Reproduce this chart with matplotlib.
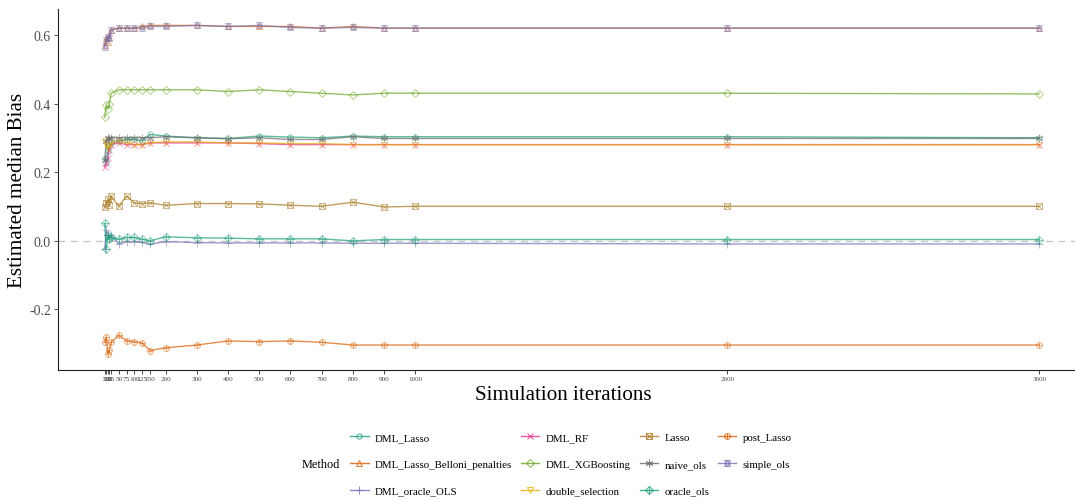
import matplotlib
matplotlib.use("Agg")
import matplotlib.pyplot as plt
from matplotlib.lines import Line2D
from matplotlib.legend_handler import HandlerTuple

plt.rcParams['font.family'] = ['Liberation Serif', 'DejaVu Serif']
plt.rcParams['axes.unicode_minus'] = False

iterations = [5, 10, 15, 20, 25, 50, 75, 100, 125, 150, 200, 300, 400, 500,
              600, 700, 800, 900, 1000, 2000, 3000]
xtick_values = [5, 10, 15, 20, 25, 50, 75, 100, 125, 150, 200, 300, 400, 500,
                600, 700, 800, 900, 1000, 2000, 3000]
ytick_values = [-0.2, 0.0, 0.2, 0.4, 0.6]

DML_Lasso = [0.24, 0.23, 0.26, 0.275, 0.285, 0.29, 0.295, 0.295, 0.29, 0.31, 0.305,
             0.30, 0.298, 0.305, 0.302, 0.30, 0.305, 0.303, 0.303, 0.303, 0.30]
DML_Lasso_Belloni_penalties = [0.57, 0.59, 0.58, 0.595, 0.615, 0.62, 0.62, 0.62, 0.625,
                               0.628, 0.628, 0.628, 0.625, 0.625, 0.625, 0.62, 0.625,
                               0.62, 0.62, 0.62, 0.62]
DML_oracle_OLS = [-0.025, 0.03, 0.015, 0.01, 0.015, -0.01, -0.003, -0.003, -0.005, -0.011,
                  -0.003, -0.006, -0.007, -0.007, -0.007, -0.007, -0.008, -0.008, -0.008,
                  -0.01, -0.01]
DML_RF = [0.215, 0.225, 0.24, 0.265, 0.28, 0.285, 0.28, 0.28, 0.28, 0.285, 0.285, 0.285,
          0.285, 0.283, 0.28, 0.28, 0.28, 0.28, 0.28, 0.28, 0.28]
DML_XGBoosting = [0.36, 0.395, 0.385, 0.40, 0.43, 0.44, 0.44, 0.44, 0.44, 0.44, 0.44, 0.44,
                  0.435, 0.44, 0.435, 0.43, 0.425, 0.43, 0.43, 0.43, 0.428]
double_selection = [0.29, 0.28, 0.27, 0.275, 0.285, 0.29, 0.285, 0.28, 0.28, 0.285, 0.288,
                    0.288, 0.285, 0.285, 0.283, 0.283, 0.28, 0.28, 0.28, 0.28, 0.28]
Lasso = [0.097, 0.11, 0.12, 0.105, 0.13, 0.10, 0.13, 0.11, 0.108, 0.11, 0.103, 0.108,
         0.108, 0.107, 0.103, 0.10, 0.112, 0.098, 0.10, 0.10, 0.10]
naive_ols = [0.235, 0.29, 0.30, 0.30, 0.30, 0.30, 0.30, 0.30, 0.30, 0.30, 0.303, 0.30,
             0.297, 0.30, 0.295, 0.295, 0.303, 0.298, 0.298, 0.298, 0.298]
oracle_ols = [0.05, -0.025, 0.015, 0.005, 0.01, 0.004, 0.009, 0.009, 0.004, -0.001, 0.011,
              0.008, 0.007, 0.005, 0.005, 0.005, -0.001, 0.003, 0.003, 0.003, 0.003]
post_Lasso = [-0.297, -0.282, -0.33, -0.32, -0.297, -0.277, -0.292, -0.295, -0.299, -0.321,
              -0.313, -0.305, -0.293, -0.295, -0.293, -0.297, -0.305, -0.305, -0.305,
              -0.305, -0.305]
simple_ols = [0.565, 0.585, 0.595, 0.59, 0.615, 0.62, 0.62, 0.62, 0.62, 0.625, 0.625,
              0.628, 0.625, 0.628, 0.622, 0.62, 0.622, 0.62, 0.62, 0.62, 0.62]

methods = ["DML_Lasso", "DML_Lasso_Belloni_penalties", "DML_oracle_OLS", "DML_RF",
           "DML_XGBoosting", "double_selection", "Lasso", "naive_ols", "oracle_ols",
           "post_Lasso", "simple_ols"]
values = [DML_Lasso, DML_Lasso_Belloni_penalties, DML_oracle_OLS, DML_RF, DML_XGBoosting,
          double_selection, Lasso, naive_ols, oracle_ols, post_Lasso, simple_ols]

dark2 = ["#1B9E77", "#D95F02", "#7570B3", "#E7298A", "#66A61E", "#E6AB02", "#A6761D",
         "#666666"]
colors = [dark2[i % 8] for i in range(len(methods))]
# ggplot shapes 1..11 expressed as stacks of matplotlib markers (marker, size)
shapes = [
    [("o", 3.8)],
    [("^", 4.6)],
    [("+", 5.5)],
    [("x", 4.6)],
    [("D", 3.8)],
    [("v", 4.6)],
    [("s", 4.2), ("x", 4.2)],
    [((6, 2, 0), 5.5)],
    [("D", 4.2), ("+", 5.5)],
    [("o", 4.2), ("+", 4.2)],
    [("^", 4.6), ("v", 4.6)],
]

W, H = 1075, 502
fig = plt.figure(figsize=(W / 100, H / 100), dpi=100)
ax = fig.add_axes([58 / W, 1 - 371 / H, (1086 - 58) / W, (371 - 10) / H])

ax.axhline(0, color="#c8c8c8", lw=1.0, ls=(0, (5, 4)), zorder=0)

handles = []
for name, vals, col, shp in zip(methods, values, colors, shapes):
    ax.plot(iterations, vals, color=col, lw=1.0, alpha=0.7, zorder=2)
    parts = []
    for j, (m, s) in enumerate(shp):
        ax.plot(iterations, vals, ls="none", marker=m, ms=s, mfc="none", mec=col,
                mew=0.7, alpha=0.5, zorder=3)
        if j == 0:
            parts.append(Line2D([], [], color=col, lw=1.0, alpha=0.8, marker=m, ms=s,
                                mfc="none", mec=col, mew=0.7))
        else:
            parts.append(Line2D([], [], ls="none", alpha=0.8, marker=m, ms=s,
                                mfc="none", mec=col, mew=0.7))
    handles.append(tuple(parts))

xr = max(iterations) - min(iterations)
ax.set_xlim(min(iterations) - 0.05 * xr, max(iterations) + 0.05 * xr)
allv = [v for vals in values for v in vals]
yr = max(allv) - min(allv)
ax.set_ylim(min(allv) - 0.05 * yr, max(allv) + 0.05 * yr)

ax.set_xticks(xtick_values)
ax.set_xticklabels([str(v) for v in xtick_values], fontsize=5.2, color="#4d4d4d")
ax.set_yticks(ytick_values)
ax.set_yticklabels([f"{v:.1f}" for v in ytick_values], fontsize=10, color="#4d4d4d")
ax.tick_params(axis="x", length=3, width=0.6, color="#333333", pad=1.5)
ax.tick_params(axis="y", length=3, width=0.6, color="#333333", pad=2)

for s in ["top", "right"]:
    ax.spines[s].set_visible(False)
for s in ["left", "bottom"]:
    ax.spines[s].set_linewidth(0.8)
    ax.spines[s].set_color("#222222")

fig.text(563 / W, 1 - 396 / H, "Simulation iterations", fontsize=15.2, ha="center",
         va="center")
fig.text(18 / W, 1 - 190 / H, "Estimated median Bias", fontsize=15.2, ha="center",
         va="center", rotation=90)

fig.text(302 / W, 1 - 465 / H, "Method", fontsize=8.8, ha="left", va="center")
leg = fig.legend(handles, methods, ncol=4, loc="center left",
                 bbox_to_anchor=(348 / W, 1 - 465 / H), frameon=False, fontsize=7.8,
                 handler_map={tuple: HandlerTuple(ndivide=1, pad=0)},
                 handlelength=1.7, handletextpad=0.6, columnspacing=0.8,
                 labelspacing=1.58, borderpad=0.2, borderaxespad=0)

fig.savefig("out.png", dpi=100)
